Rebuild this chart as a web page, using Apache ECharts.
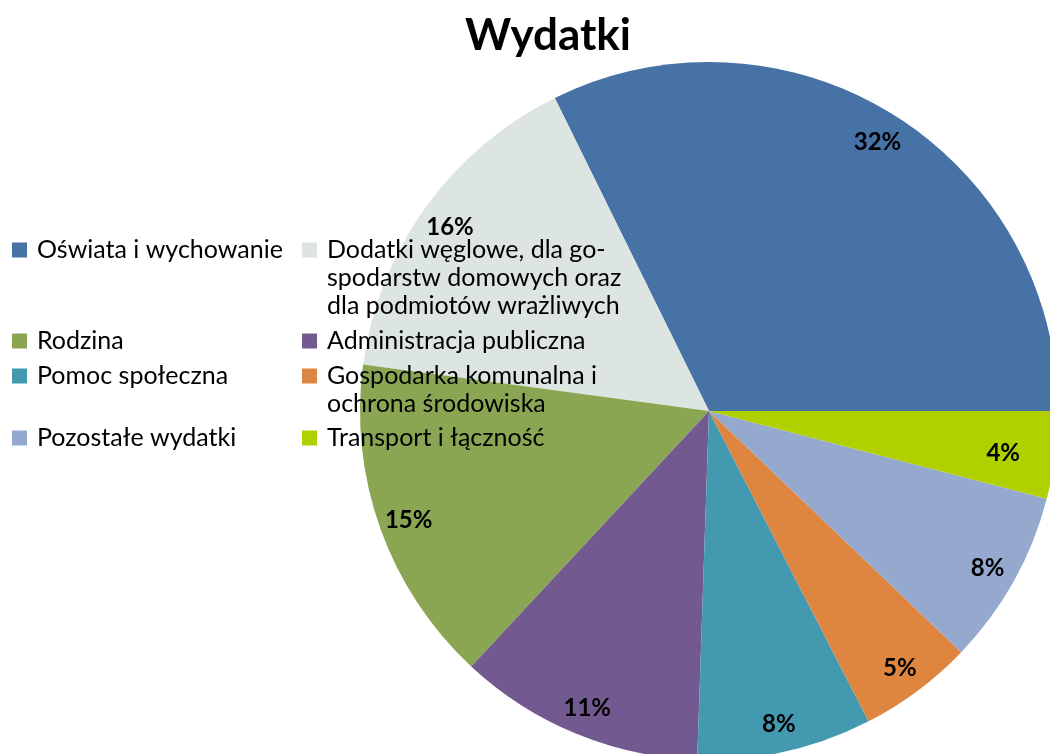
<!DOCTYPE html>
<html>
<head>
<meta charset="utf-8">
<script src="https://cdn.jsdelivr.net/npm/echarts@6/dist/echarts.min.js"></script>
<style>
html,body{margin:0;padding:0;background:#fff;}
#chart{width:1050px;height:754px;}
</style>
</head>
<body>
<div id="chart"></div>
<script>
// ---- data ----
const titleText = 'Wydatki';
const categories = [
  'Oświata i wychowanie',
  'Dodatki węglowe, dla go-spodarstw domowych oraz dla podmiotów wrażliwych',
  'Rodzina',
  'Administracja publiczna',
  'Pomoc społeczna',
  'Gospodarka komunalna i ochrona środowiska',
  'Pozostałe wydatki',
  'Transport i łączność'
];
const legendLines = [
  ['Oświata i wychowanie'],
  ['Dodatki węglowe, dla go-', 'spodarstw domowych oraz', 'dla podmiotów wrażliwych'],
  ['Rodzina'],
  ['Administracja publiczna'],
  ['Pomoc społeczna'],
  ['Gospodarka komunalna i', 'ochrona środowiska'],
  ['Pozostałe wydatki'],
  ['Transport i łączność']
];
const values = [32.3, 15.6, 15.2, 11.4, 8.1, 5.3, 8.1, 4.05];
const colors = ['#4672A6', '#DDE5E3', '#8BA653', '#725A90', '#4399B0', '#DE8640', '#95A9CF', '#B0D000'];

// ---- layout ----
const center = [709, 411];
const R = 349;
const lineH = 28;
// legend anchor: [left, y of first line centre]
const legendPos = [
  [12, 250], [302, 250],
  [12, 341], [302, 341],
  [12, 376], [302, 376],
  [12, 438], [302, 438]
];

const pieData = categories.map((c, i) => ({ name: c, value: values[i], itemStyle: { color: colors[i] } }));

const legends = categories.map((c, i) => {
  const n = legendLines[i].length;
  const total = 2 * n - 1; // leading blank lines keep line 1 centred on the icon
  const boxH = total * lineH;
  const txt = new Array(n - 1).fill('').concat(legendLines[i]).join('\n');
  return {
    data: [c],
    left: legendPos[i][0],
    top: legendPos[i][1] - boxH / 2,
    padding: 0,
    itemGap: 0,
    itemWidth: 15,
    itemHeight: 15,
    icon: 'rect',
    selectedMode: false,
    formatter: () => txt,
    textStyle: {
      fontFamily: 'Lato',
      fontSize: 25,
      color: '#000',
      lineHeight: lineH,
      padding: [0, 0, 0, 5]
    }
  };
});

const chart = echarts.init(document.getElementById('chart'), null, { renderer: 'canvas' });
chart.setOption({
  animation: false,
  backgroundColor: '#fff',
  title: {
    text: titleText,
    left: 465,
    top: 14,
    padding: 0,
    textStyle: { fontFamily: 'Lato', fontWeight: 'bold', fontSize: 44, color: '#000' }
  },
  legend: legends,
  series: [
    {
      type: 'pie',
      center: center,
      radius: [0, R],
      startAngle: 0,
      clockwise: false,
      data: pieData,
      label: { show: false },
      labelLine: { show: false },
      itemStyle: { borderWidth: 0 },
      emphasis: { disabled: true }
    },
    {
      type: 'pie',
      center: center,
      radius: [R - 66, R],
      startAngle: 0,
      clockwise: false,
      silent: true,
      data: categories.map((c, i) => ({ name: c, value: values[i], itemStyle: { color: 'rgba(0,0,0,0)' } })),
      itemStyle: { borderWidth: 0 },
      emphasis: { disabled: true },
      labelLine: { show: false },
      label: {
        show: true,
        position: 'inside',
        formatter: p => Math.round(p.percent) + '%',
        fontFamily: 'Lato',
        fontWeight: 'bold',
        fontSize: 24,
        color: '#000'
      },
      labelLayout: function (p) {
        const right = p.labelRect.x + p.labelRect.width;
        const maxRight = 1020;
        return right > maxRight ? { dx: maxRight - right, dy: 2 } : { dy: 2 };
      }
    }
  ]
});
</script>
</body>
</html>
